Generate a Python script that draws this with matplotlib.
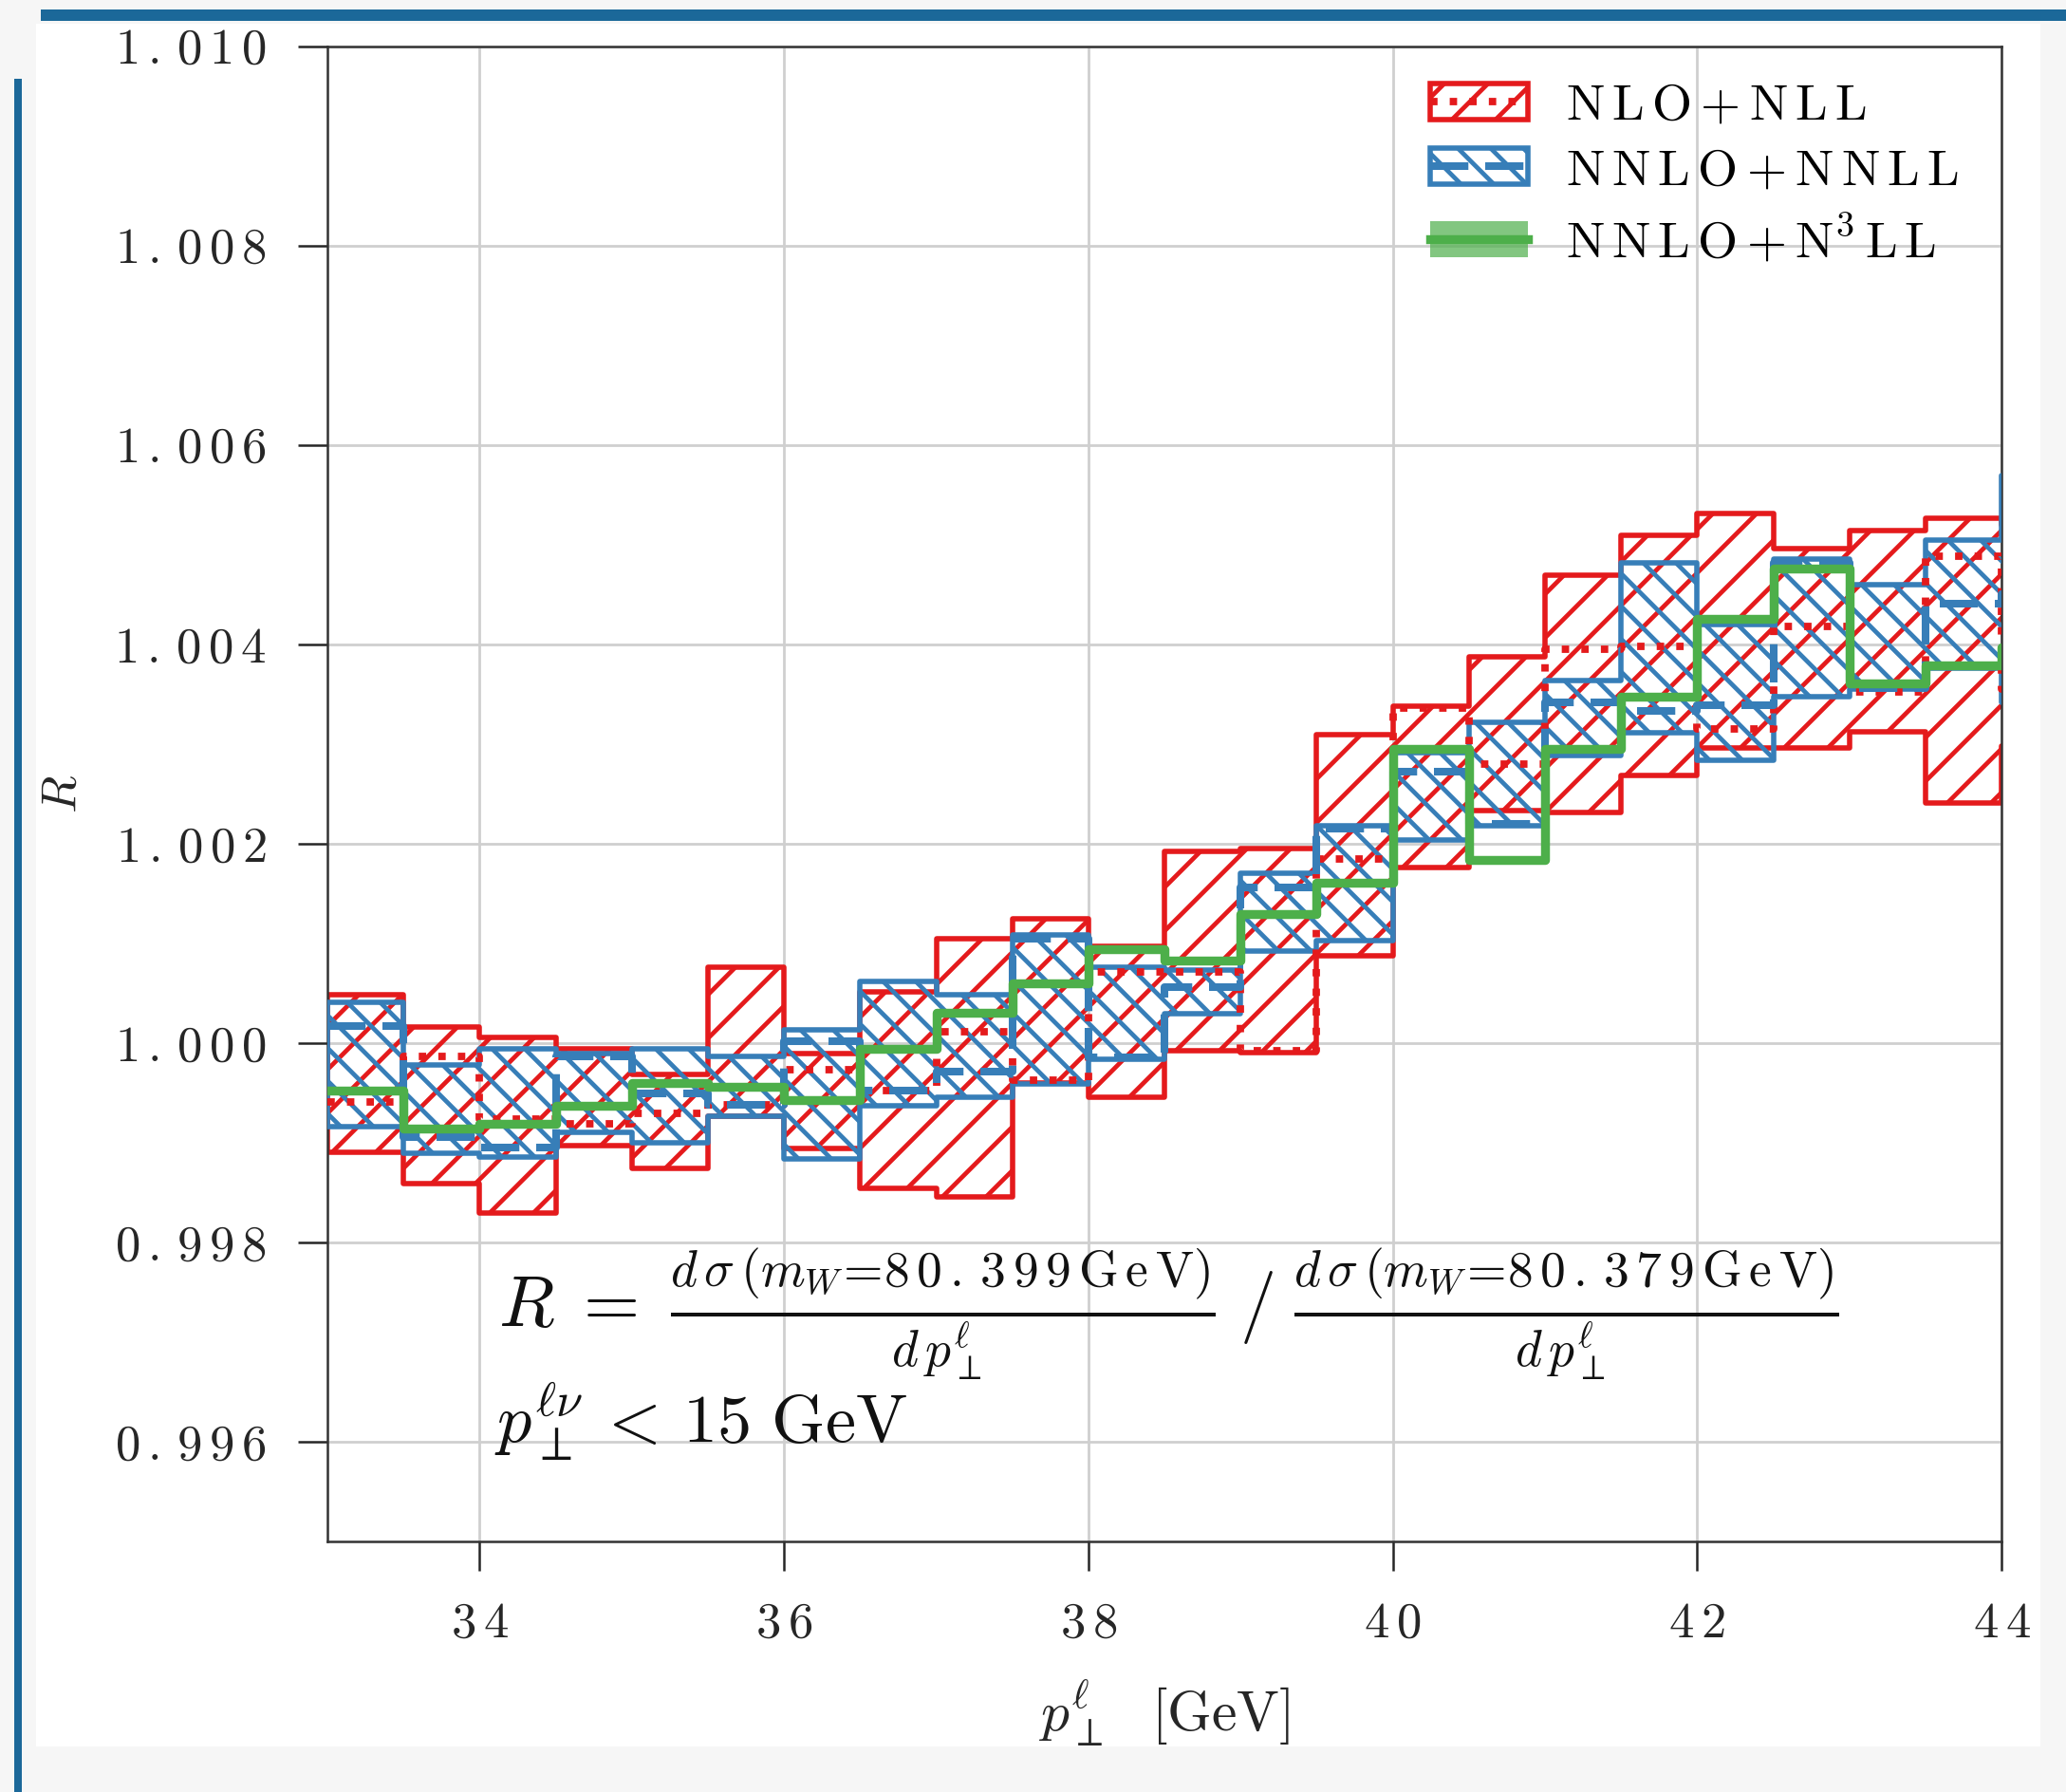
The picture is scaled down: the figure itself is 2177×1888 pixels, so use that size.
import numpy as np
import matplotlib
matplotlib.use('Agg')
from matplotlib import pyplot as plt
from matplotlib.patches import Patch, Rectangle
from matplotlib.lines import Line2D

# high dpi so the hatch spacing matches; sizes below are given for 200 dpi and scaled
DPI = 414
P = 200 / DPI

plt.rcParams['font.family'] = 'serif'
plt.rcParams['font.serif'] = ['cmr10']
plt.rcParams['mathtext.fontset'] = 'cm'
plt.rcParams['axes.unicode_minus'] = False
plt.rcParams['hatch.linewidth'] = 1.7 * P

# bin edges (last bin lies just outside the axis range)
edges = np.arange(33.0, 45.0, 0.5)

# NLO+NLL band and central value
red_lo = [0.99890, 0.99859, 0.99829, 0.99897, 0.99874, 0.99927, 0.99894, 0.99854, 0.99846, 0.99960, 0.99946,
          0.99992, 0.99990, 1.00087, 1.00176, 1.00233, 1.00231, 1.00268, 1.00296, 1.00296, 1.00312, 1.00241, 1.00298]
red_hi = [1.00048, 1.00016, 1.00006, 0.99994, 0.99968, 1.00076, 0.99989, 1.00051, 1.00105, 1.00125, 1.00097,
          1.00192, 1.00195, 1.00309, 1.00338, 1.00387, 1.00469, 1.00509, 1.00531, 1.00496, 1.00514, 1.00526, 1.00520]
red_c = [0.99941, 0.99987, 0.99924, 0.99919, 0.99929, 0.99938, 0.99973, 0.99952, 1.00011, 0.99963, 1.00071,
         1.00071, 0.99992, 1.00185, 1.00336, 1.00280, 1.00395, 1.00398, 1.00315, 1.00418, 1.00352, 1.00488, 1.00355]

# NNLO+NNLL band and central value
blue_lo = [0.99916, 0.99889, 0.99886, 0.99910, 0.99900, 0.99927, 0.99884, 0.99937, 0.99946, 0.99959, 0.99984,
           1.00029, 1.00092, 1.00103, 1.00204, 1.00218, 1.00288, 1.00311, 1.00284, 1.00347, 1.00355, 1.00376, 1.00342]
blue_hi = [1.00041, 0.99978, 0.99994, 0.99989, 0.99994, 0.99987, 1.00013, 1.00062, 1.00048, 1.00108, 1.00076,
           1.00073, 1.00170, 1.00218, 1.00291, 1.00322, 1.00364, 1.00482, 1.00420, 1.00485, 1.00460, 1.00504, 1.00569]
blue_c = [1.00017, 0.99906, 0.99895, 0.99987, 0.99949, 0.99938, 1.00002, 0.99952, 0.99971, 1.00105, 0.99986,
          1.00056, 1.00156, 1.00215, 1.00272, 1.00220, 1.00342, 1.00333, 1.00339, 1.00482, 1.00356, 1.00441, 1.00450]

# NNLO+N3LL central value
green_c = [0.99952, 0.99914, 0.99919, 0.99937, 0.99960, 0.99956, 0.99943, 0.99994, 1.00030, 1.00060, 1.00094,
           1.00083, 1.00129, 1.00161, 1.00295, 1.00184, 1.00295, 1.00347, 1.00425, 1.00476, 1.00361, 1.00379, 1.00397]

labels = [r'$\mathrm{N\,L\,O+N\,L\,L}$', r'$\mathrm{N\,N\,L\,O+N\,N\,L\,L}$',
          r'$\mathrm{N\,N\,L\,O+N^{3}\,L\,L}$']
xticks = [34, 36, 38, 40, 42, 44]
yticks = [0.996, 0.998, 1.000, 1.002, 1.004, 1.006, 1.008, 1.010]

red = '#e41a1c'
blue = '#377eb8'
green = '#4daf4a'


def ext(v):
    # repeat last value so that step='post' covers the last bin
    return list(v) + [v[-1]]


def spaced(s):
    # loosely tracked tick label text
    return r'$\mathrm{' + r'\,'.join(s) + '}$'


fig = plt.figure(figsize=(2177 / DPI, 1888 / DPI), dpi=DPI)
fig.patch.set_facecolor('#f6f6f6')
# screenshot frame
fig.add_artist(Rectangle((0.0175, 0.0254), 0.970, 0.9614, transform=fig.transFigure,
                         facecolor='white', edgecolor='none', zorder=-5))
fig.add_artist(Rectangle((0.0198, 0.9884), 0.9802, 0.0063, transform=fig.transFigure,
                         facecolor='#1b6899', edgecolor='none', zorder=-4))
fig.add_artist(Rectangle((0.0069, 0.0), 0.0037, 0.956, transform=fig.transFigure,
                         facecolor='#1b6899', edgecolor='none', zorder=-4))

ax = fig.add_axes([0.1585, 0.1398, 0.8103, 0.8345])

ax.fill_between(edges, ext(red_lo), ext(red_hi), step='post', facecolor='none',
                edgecolor=red, hatch='///', lw=2.0 * P, zorder=2)
ax.fill_between(edges, ext(blue_lo), ext(blue_hi), step='post', facecolor='none',
                edgecolor=blue, hatch='\\\\\\\\', lw=2.0 * P, zorder=3)
ax.step(edges, ext(red_c), where='post', color=red, ls=':', lw=2.8 * P, zorder=4)
ax.step(edges, ext(blue_c), where='post', color=blue, lw=2.9 * P, dashes=(5.0, 2.2), zorder=5)
ax.step(edges, ext(green_c), where='post', color=green, lw=3.4 * P, zorder=6)

ax.set_xlim(33, 44)
ax.set_ylim(0.995, 1.010)
ax.set_xticks(xticks)
ax.set_xticklabels([spaced(str(t)) for t in xticks])
ax.set_yticks(yticks)
ax.set_yticklabels([spaced('%.3f' % t) for t in yticks])
ax.grid(True, color='#cfcfcf', lw=1.0 * P)
ax.set_axisbelow(True)
for s in ax.spines.values():
    s.set_color('#333333')
    s.set_linewidth(0.9 * P)
ax.tick_params(direction='out', length=11 * P, width=0.9 * P, pad=12 * P, labelsize=19 * P,
               colors='#262626')

ax.set_xlabel(r'$p_\perp^\ell$  [GeV]', fontsize=21.5 * P, color='#262626', labelpad=12 * P)
ax.set_ylabel(r'$R$', fontsize=18.5 * P, color='#262626', labelpad=11 * P)

ax.text(0.102, 0.152,
        r'$R\;=\;\frac{d\,\sigma\,(m_W\!=\!\mathrm{8\,0\,.\,3\,9\,9\,G\,e\,V})}{d\,p_\perp^\ell}\;/\;'
        r'\frac{d\,\sigma\,(m_W\!=\!\mathrm{8\,0\,.\,3\,7\,9\,G\,e\,V})}{d\,p_\perp^\ell}$',
        transform=ax.transAxes, fontsize=27.5 * P, va='center', ha='left', color='#111111')
ax.text(0.100, 0.066, r'$p_\perp^{\ell\nu}\,<\,15\ \mathrm{GeV}$',
        transform=ax.transAxes, fontsize=26 * P, va='baseline', ha='left', color='#111111')

h_red = (Patch(facecolor='white', edgecolor=red, hatch='///', lw=2.0 * P),
         Line2D([], [], color=red, ls=':', lw=2.8 * P))
h_blue = (Patch(facecolor='white', edgecolor=blue, hatch='\\\\\\\\', lw=2.0 * P),
          Line2D([], [], color=blue, lw=2.9 * P, dashes=(5.0, 2.2)))
h_green = (Patch(facecolor=green, alpha=0.7, edgecolor='none'),
           Line2D([], [], color=green, lw=3.4 * P))
ax.legend([h_red, h_blue, h_green], labels, loc='upper left', bbox_to_anchor=(0.631, 1.006),
          frameon=False, fontsize=19.5 * P, handlelength=1.9, handleheight=0.7,
          labelspacing=0.38, handletextpad=0.75)

fig.savefig('out.png', dpi=DPI, facecolor=fig.get_facecolor())
